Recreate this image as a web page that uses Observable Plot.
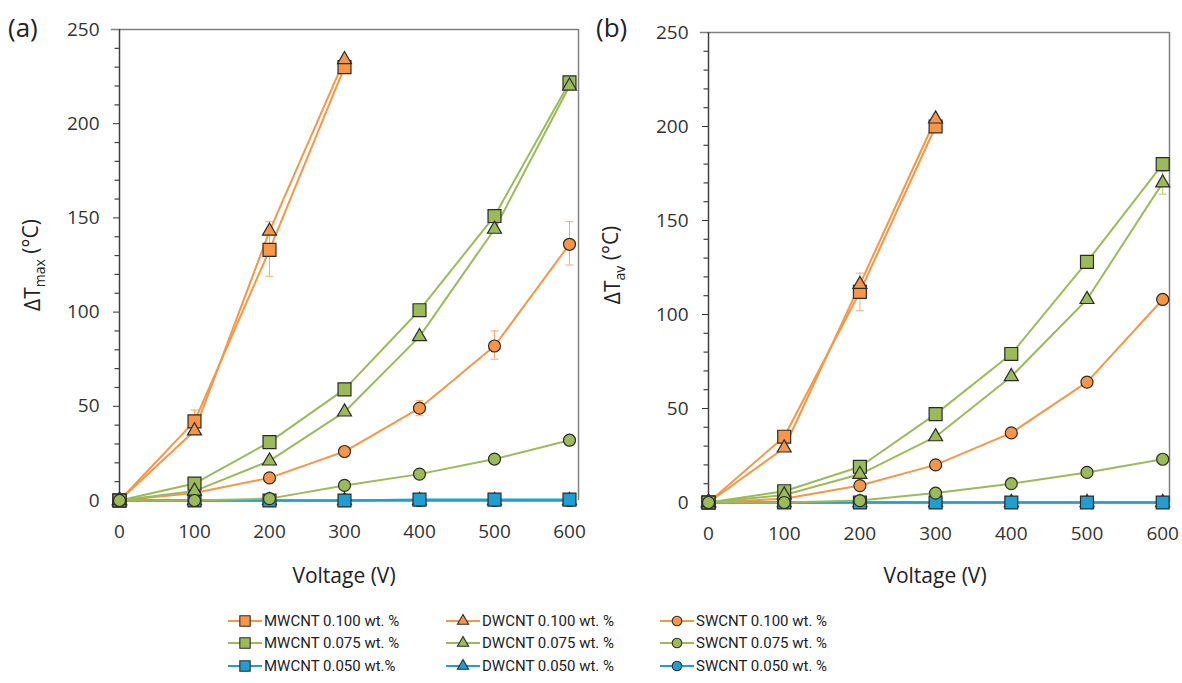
<!DOCTYPE html>
<html><head><meta charset="utf-8">
<script src="https://cdn.jsdelivr.net/npm/d3@7"></script>
<script src="https://cdn.jsdelivr.net/npm/@observablehq/plot@0.6"></script>
<style>
body{margin:0;background:#fff;}
#root{position:relative;width:1182px;height:683px;overflow:hidden;font-family:"Open Sans",sans-serif;background:#fff;}
.panel{position:absolute;top:0;}
.tag{position:absolute;font-family:"Open Sans",sans-serif;font-size:26px;color:#222;}
.legend-item{position:absolute;display:flex;align-items:center;font-family:"Liberation Sans Narrow","Roboto",sans-serif;font-size:15px;color:#222;white-space:nowrap;}
.legend-item svg{margin-right:2px;}
</style></head><body><div id="root"></div>
<script>
// ---------- data ----------
const voltage = [0, 100, 200, 300, 400, 500, 600];
const xTicks = [0, 100, 200, 300, 400, 500, 600];
const yTicks = [0, 50, 100, 150, 200, 250];
const yMinorTicks = [10,20,30,40,60,70,80,90,110,120,130,140,160,170,180,190,210,220,230,240];

const seriesNames = ["MWCNT 0.100 wt. %","DWCNT 0.100 wt. %","SWCNT 0.100 wt. %",
                     "MWCNT 0.075 wt. %","DWCNT 0.075 wt. %","SWCNT 0.075 wt. %",
                     "MWCNT 0.050 wt.%","DWCNT 0.050 wt. %","SWCNT 0.050 wt. %"];
const seriesColors = ["#F79646","#F79646","#F79646","#9BBB59","#9BBB59","#9BBB59","#1F9ED1","#1F9ED1","#1F9ED1"];
const seriesShapes = ["square","triangle","circle","square","triangle","circle","square","triangle","circle"];
const shapeRadius = {square: 7.3, triangle: 5.2, circle: 6};
const drawOrder = [8, 7, 6, 0, 1, 2, 3, 4, 5];

// panel (a): ΔTmax
const aMW100 = [0, 42, 133, 230];
const aDW100 = [0, 37, 143, 234];
const aSW100 = [0, 4, 12, 26, 49, 82, 136];
const aMW075 = [0, 9, 31, 59, 101, 151, 222];
const aDW075 = [0, 5, 21, 47, 87, 144, 220];
const aSW075 = [0, 0, 1, 8, 14, 22, 32];
const aMW050 = [0, 0, 0, 0, 0.5, 0.5, 0.5];
const aDW050 = [0, 0, 0, 0, 0, 0, 0];
const aSW050 = [0, 0, 0, 0, 0, 0, 0];
// error bars (a): series index, voltage, low, high
const aErrSeries = [0, 0, 2, 2, 2];
const aErrX      = [100, 200, 400, 500, 600];
const aErrLow    = [37, 119, 45, 75, 125];
const aErrHigh   = [48, 148, 53, 90, 148];

// panel (b): ΔTav
const bMW100 = [0, 35, 112, 200];
const bDW100 = [0, 29, 116, 204];
const bSW100 = [0, 2, 9, 20, 37, 64, 108];
const bMW075 = [0, 6, 19, 47, 79, 128, 180];
const bDW075 = [0, 4, 15, 35, 67, 108, 170];
const bSW075 = [0, 0, 1, 5, 10, 16, 23];
const bMW050 = [0, 0, 0, 0, 0, 0, 0];
const bDW050 = [0, 0, 0, 0, 0, 0, 0];
const bSW050 = [0, 0, 0, 0, 0, 0, 0];
const bErrSeries = [0, 4];
const bErrX      = [200, 600];
const bErrLow    = [102, 164];
const bErrHigh   = [122, 176];

// ---------- build ----------
function buildRows(arrays) {
  const rows = [];
  for (const i of drawOrder) {
    arrays[i].forEach((v, k) => rows.push({
      series: seriesNames[i], x: voltage[k], y: v,
      color: seriesColors[i], shape: seriesShapes[i], r: shapeRadius[seriesShapes[i]]
    }));
  }
  return rows;
}
function buildErr(s, xs, lo, hi) {
  return s.map((si, k) => ({x: xs[k], lo: lo[k], hi: hi[k], color: seriesColors[si]}));
}
const capSymbol = {draw(ctx, size) { ctx.moveTo(-4, 0); ctx.lineTo(4, 0); }};
const minorTickSymbol = {draw(ctx, size) { ctx.moveTo(-5, 0); ctx.lineTo(0, 0); }};

function panel(rows, errs, opt) {
  const svg = Plot.plot({
    width: opt.width, height: 600,
    marginLeft: opt.ml, marginRight: opt.mr, marginTop: opt.mt, marginBottom: 600 - opt.bottom,
    style: {fontFamily: "'Open Sans', sans-serif", fontSize: "19px", color: "#333", background: "transparent", overflow: "visible"},
    x: {domain: [0, opt.xmax], ticks: xTicks, tickSize: 0, tickPadding: 24, tickFormat: d => d, label: null},
    y: {domain: [0, 250], ticks: yTicks, tickSize: 6, tickPadding: 14, tickFormat: d => d, label: null},
    color: {type: "identity"},
    r: {type: "identity"},
    marks: [
      Plot.ruleY([250], {stroke: "#808080", strokeWidth: 1.5, x1: -8 * opt.xmax / 450, x2: opt.xmax}),
      Plot.ruleX([opt.xmax], {stroke: "#808080", strokeWidth: 1.5}),
      Plot.ruleX([0], {stroke: "#404040", strokeWidth: 1.5}),
      Plot.dot(yMinorTicks, {x: () => 0, y: d => d, symbol: minorTickSymbol, stroke: "#404040", strokeWidth: 1.2, fill: "none"}),
      Plot.ruleX(errs, {x: "x", y1: "lo", y2: "hi", stroke: "color", strokeWidth: 1, strokeOpacity: 0.8}),
      Plot.dot(errs, {x: "x", y: "lo", symbol: capSymbol, stroke: "color", strokeWidth: 1, strokeOpacity: 0.8, fill: "none"}),
      Plot.dot(errs, {x: "x", y: "hi", symbol: capSymbol, stroke: "color", strokeWidth: 1, strokeOpacity: 0.8, fill: "none"}),
      Plot.line(rows, {x: "x", y: "y", z: "series", stroke: "color", strokeWidth: 2}),
      Plot.dot(rows, {x: "x", y: "y", symbol: "shape", r: "r", fill: "color", stroke: "#2b2b2b", strokeWidth: 1.2, sort: null})
    ]
  });
  // y-axis title with subscript
  const t = d3.select(svg).append("text")
    .attr("transform", `translate(${opt.ylabX},${opt.ylabY}) rotate(-90)`)
    .attr("text-anchor", "middle").attr("font-size", 21).attr("fill", "#222")
    .attr("font-family", "'Open Sans', sans-serif");
  t.append("tspan").text("ΔT");
  t.append("tspan").attr("font-size", 14).attr("dy", "0.35em").text(opt.sub);
  t.append("tspan").attr("dy", "-0.35em").text(" (°C)");
  // x-axis title
  d3.select(svg).append("text")
    .attr("x", opt.xlabX).attr("y", 583)
    .attr("text-anchor", "middle").attr("font-size", 21).attr("fill", "#222")
    .attr("font-family", "'Open Sans', sans-serif")
    .text("Voltage (V)");
  return svg;
}

const root = document.getElementById("root");
const aSvg = panel(buildRows([aMW100,aDW100,aSW100,aMW075,aDW075,aSW075,aMW050,aDW050,aSW050]),
  buildErr(aErrSeries, aErrX, aErrLow, aErrHigh),
  {width: 590, ml: 119, mr: 12, mt: 29, bottom: 500, xmax: 612, ylabX: 40, ylabY: 265, xlabX: 344, sub: "max"});
aSvg.classList.add("panel"); aSvg.style.left = "0px";
root.appendChild(aSvg);

const bSvg = panel(buildRows([bMW100,bDW100,bSW100,bMW075,bDW075,bSW075,bMW050,bDW050,bSW050]),
  buildErr(bErrSeries, bErrX, bErrLow, bErrHigh),
  {width: 592, ml: 118, mr: 13, mt: 32, bottom: 502, xmax: 609, ylabX: 30, ylabY: 265, xlabX: 345, sub: "av"});
bSvg.classList.add("panel"); bSvg.style.left = "590px";
root.appendChild(bSvg);

// panel tags
for (const [txt, left] of [["(a)", 8], ["(b)", 596]]) {
  const d = document.createElement("div");
  d.className = "tag"; d.textContent = txt;
  d.style.left = left + "px"; d.style.top = "9px";
  root.appendChild(d);
}

// legend (row-wise, 3 columns)
const legendColX = [228, 446, 660];
const legendRowY = [621, 643, 666];
seriesNames.forEach((name, i) => {
  const col = i % 3, row = Math.floor(i / 3);
  const item = document.createElement("div");
  item.className = "legend-item";
  item.style.left = legendColX[col] + "px";
  item.style.top = (legendRowY[row] - 10) + "px";
  item.style.height = "20px";
  const s = d3.create("svg").attr("width", 34).attr("height", 20);
  s.append("line").attr("x1", 0).attr("x2", 34).attr("y1", 10).attr("y2", 10)
    .attr("stroke", seriesColors[i]).attr("stroke-width", 2);
  const sym = {square: d3.symbolSquare, triangle: d3.symbolTriangle, circle: d3.symbolCircle}[seriesShapes[i]];
  const rr = shapeRadius[seriesShapes[i]] * 0.8;
  s.append("path").attr("transform", "translate(17,10)")
    .attr("d", d3.symbol(sym, Math.PI * rr * rr)())
    .attr("fill", seriesColors[i]).attr("stroke", "#2b2b2b").attr("stroke-width", 1.1);
  item.appendChild(s.node());
  const sp = document.createElement("span"); sp.textContent = name;
  item.appendChild(sp);
  root.appendChild(item);
});
</script></body></html>
